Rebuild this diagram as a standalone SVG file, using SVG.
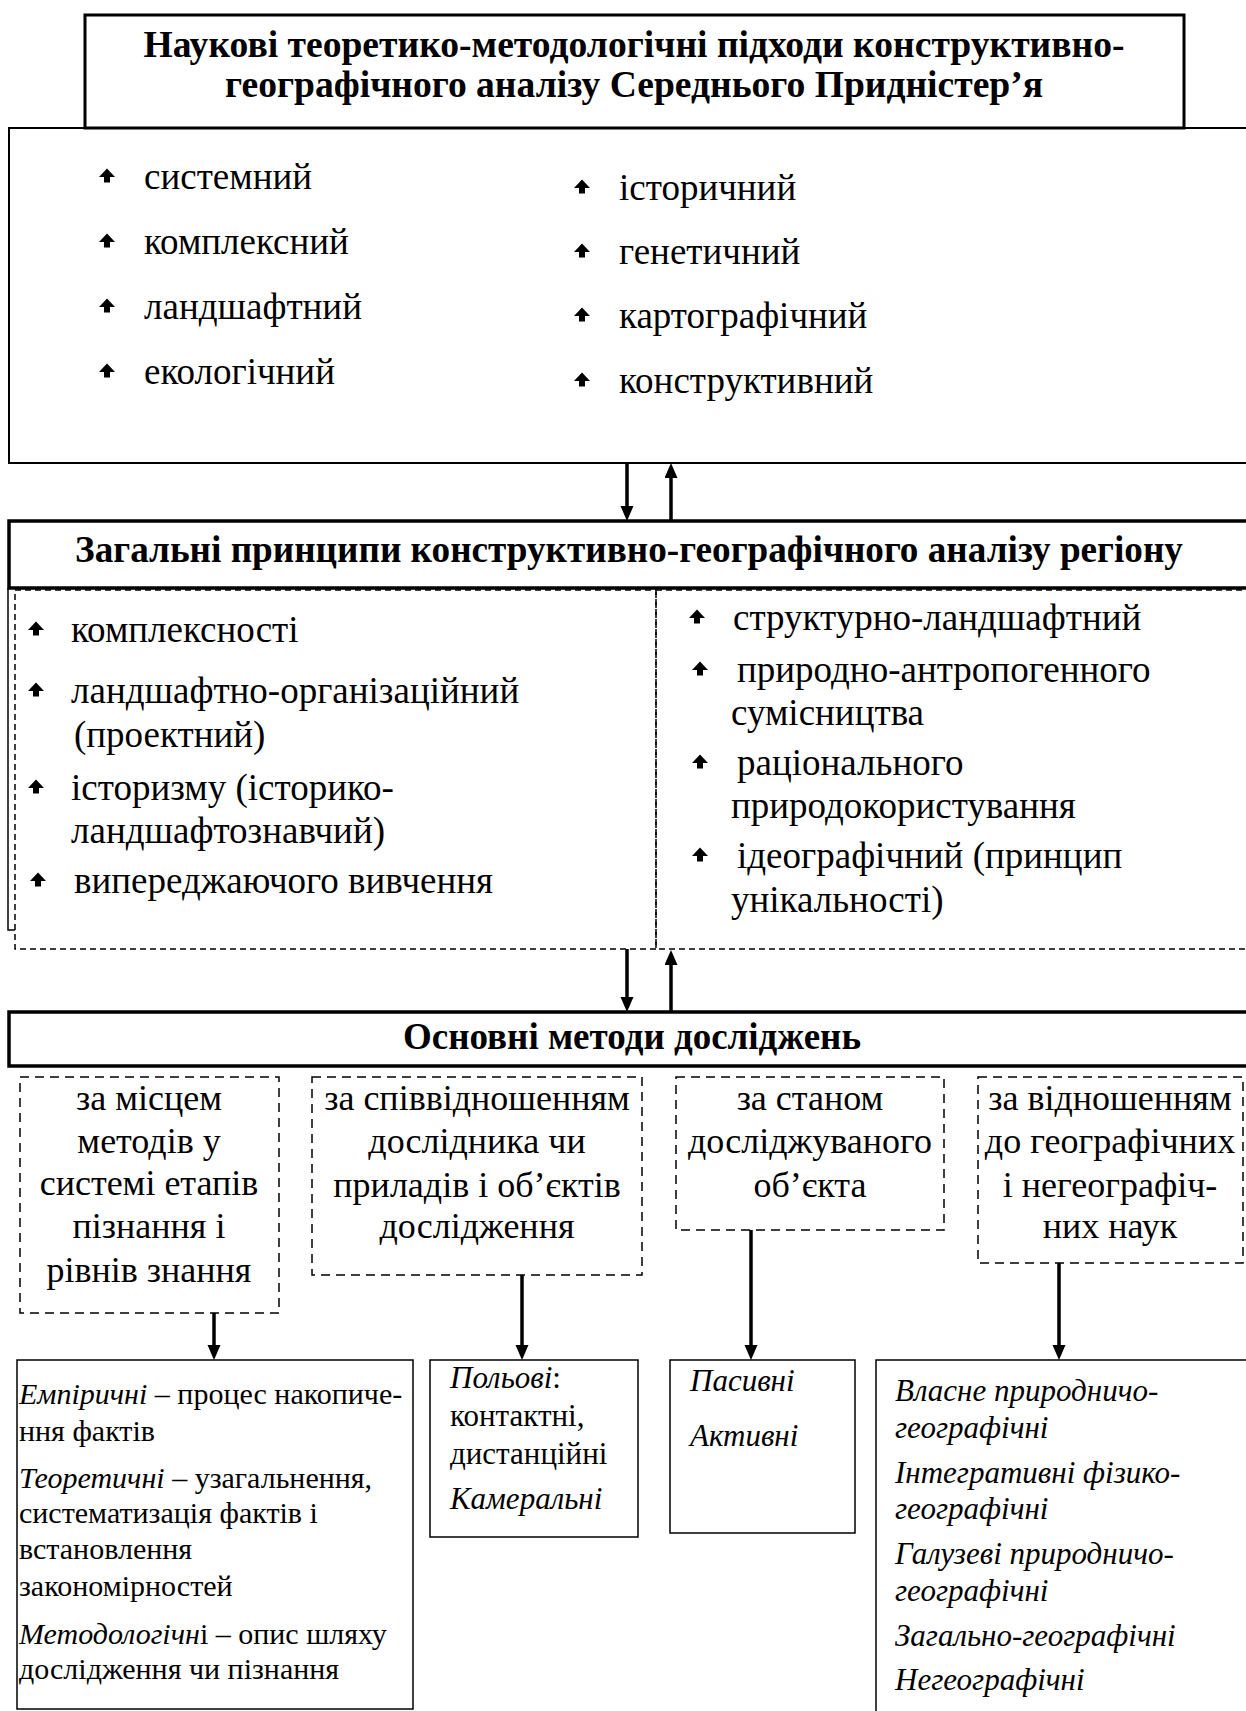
<svg xmlns="http://www.w3.org/2000/svg" width="1246" height="1711" viewBox="0 0 1246 1711">
<style>
text{font-family:"Liberation Serif","Times New Roman",serif;fill:#000}
.hd{font-weight:bold;font-size:37.6px}
.li{font-size:37px}
.pr{font-size:37px}
.me{font-size:36px;text-anchor:middle}
.bt{font-size:30px}
.bt2{font-size:31px}
.i{font-style:italic}
.box{fill:#fff;stroke:#000;stroke-width:2}
.thick{fill:#fff;stroke:#000;stroke-width:3.5}
.dash{fill:none;stroke:#000;stroke-width:1.5;stroke-dasharray:6 4}
.dash2{fill:none;stroke:#000;stroke-width:1.5;stroke-dasharray:9 6}
.con{stroke:#000;stroke-width:3.5;fill:none;marker-end:url(#ah)}
</style>
<defs>
<marker id="ah" markerUnits="userSpaceOnUse" markerWidth="15" markerHeight="14" refX="7" refY="6.5" orient="auto"><path d="M0,0 L15,6.5 L0,13 z" fill="#000"/></marker>
<path id="bul" d="M0,-7.5 L8,1 L3,1 L3,6.5 L-3,6.5 L-3,1 L-8,1 Z" fill="#000"/>
</defs>
<rect width="1246" height="1711" fill="#fff"/>

<g id="approaches">
<rect class="box" x="9" y="128" width="1250" height="335"/>
<use href="#bul" x="107" y="176"/><text class="li" x="144" y="189">системний</text>
<use href="#bul" x="107" y="241"/><text class="li" x="144" y="254">комплексний</text>
<use href="#bul" x="107" y="306"/><text class="li" x="144" y="319">ландшафтний</text>
<use href="#bul" x="107" y="371"/><text class="li" x="144" y="384">екологічний</text>
<use href="#bul" x="582" y="187"/><text class="li" x="619" y="200">історичний</text>
<use href="#bul" x="582" y="251"/><text class="li" x="619" y="264">генетичний</text>
<use href="#bul" x="582" y="315"/><text class="li" x="619" y="328">картографічний</text>
<use href="#bul" x="582" y="380"/><text class="li" x="619" y="393">конструктивний</text>
</g>

<g id="title">
<rect fill="#fff" stroke="#000" stroke-width="3" x="85" y="15" width="1099" height="113"/>
<text class="hd" x="634" y="57" text-anchor="middle">Наукові теоретико-методологічні підходи конструктивно-</text>
<text class="hd" x="634" y="97" text-anchor="middle">географічного аналізу Середнього Придністер’я</text>
</g>

<g id="principles-header">
<rect class="thick" x="9" y="521" width="1250" height="67"/>
<text class="hd" x="629" y="562" text-anchor="middle" style="font-size:37.2px">Загальні принципи конструктивно-географічного аналізу регіону</text>
</g>

<g id="principles-left">
<path d="M8,588 V930 H15" fill="none" stroke="#000" stroke-width="1.5"/>
<rect class="dash" x="15" y="590" width="641" height="359"/>
<use href="#bul" x="36" y="629"/><text class="pr" x="71" y="642">комплексності</text>
<use href="#bul" x="36" y="690"/><text class="pr" x="71" y="703">ландшафтно-організаційний</text>
<text class="pr" x="74" y="747">(проектний)</text>
<use href="#bul" x="36" y="787"/><text class="pr" x="71" y="800">історизму (історико-</text>
<text class="pr" x="71" y="843">ландшафтознавчий)</text>
<use href="#bul" x="38" y="880"/><text class="pr" x="74" y="893">випереджаючого вивчення</text>
</g>

<g id="principles-right">
<rect class="dash" x="656" y="590" width="600" height="359"/>
<use href="#bul" x="697" y="617"/><text class="pr" x="733" y="630">структурно-ландшафтний</text>
<use href="#bul" x="700" y="669"/><text class="pr" x="737" y="682">природно-антропогенного</text>
<text class="pr" x="731" y="725">сумісництва</text>
<use href="#bul" x="700" y="762"/><text class="pr" x="737" y="775">раціонального</text>
<text class="pr" x="731" y="818">природокористування</text>
<use href="#bul" x="700" y="855"/><text class="pr" x="737" y="868">ідеографічний (принцип</text>
<text class="pr" x="731" y="912">унікальності)</text>
</g>

<g id="methods-header">
<rect class="thick" x="9" y="1012" width="1250" height="54"/>
<text class="hd" x="632" y="1049" text-anchor="middle" style="font-size:37px">Основні методи досліджень</text>
</g>

<g id="m-place">
<rect class="dash2" x="20" y="1077" width="259" height="236"/>
<text class="me" x="149" y="1110">за місцем</text>
<text class="me" x="149" y="1153">методів у</text>
<text class="me" x="149" y="1195">системі етапів</text>
<text class="me" x="149" y="1238">пізнання і</text>
<text class="me" x="149" y="1282">рівнів знання</text>
</g>

<g id="m-relation">
<rect class="dash2" x="312" y="1077" width="330" height="198"/>
<text class="me" x="477" y="1110">за співвідношенням</text>
<text class="me" x="477" y="1153">дослідника чи</text>
<text class="me" x="477" y="1197">приладів і об’єктів</text>
<text class="me" x="477" y="1238">дослідження</text>
</g>

<g id="m-state">
<rect class="dash2" x="676" y="1077" width="268" height="153"/>
<text class="me" x="810" y="1110">за станом</text>
<text class="me" x="810" y="1153">досліджуваного</text>
<text class="me" x="810" y="1197">об’єкта</text>
</g>

<g id="m-science">
<rect class="dash2" x="978" y="1077" width="265" height="186"/>
<text class="me" x="1110" y="1110">за відношенням</text>
<text class="me" x="1110" y="1153">до географічних</text>
<text class="me" x="1110" y="1197">і негеографіч-</text>
<text class="me" x="1110" y="1238">них наук</text>
</g>

<g id="r-levels">
<rect fill="#fff" stroke="#000" stroke-width="1.5" x="17" y="1360" width="396" height="349"/>
<text class="bt" x="19" y="1404"><tspan class="i">Емпіричні</tspan> – процес накопиче-</text>
<text class="bt" x="19" y="1441">ння фактів</text>
<text class="bt" x="19" y="1488"><tspan class="i">Теоретичні</tspan> – узагальнення,</text>
<text class="bt" x="19" y="1523">систематизація фактів і</text>
<text class="bt" x="19" y="1559">встановлення</text>
<text class="bt" x="19" y="1596">закономірностей</text>
<text class="bt" x="19" y="1644"><tspan class="i">Методологічн</tspan>і – опис шляху</text>
<text class="bt" x="19" y="1679">дослідження чи пізнання</text>
</g>

<g id="r-field">
<rect fill="#fff" stroke="#000" stroke-width="1.5" x="430" y="1360" width="208" height="177"/>
<text class="bt2" x="450" y="1388"><tspan class="i">Польові</tspan>:</text>
<text class="bt2" x="450" y="1426">контактні,</text>
<text class="bt2" x="450" y="1464">дистанційні</text>
<text class="bt2 i" x="450" y="1509">Камеральні</text>
</g>

<g id="r-state">
<rect fill="#fff" stroke="#000" stroke-width="1.5" x="670" y="1360" width="185" height="173"/>
<text class="bt2 i" x="690" y="1391">Пасивні</text>
<text class="bt2 i" x="690" y="1446">Активні</text>
</g>

<g id="r-science">
<rect fill="#fff" stroke="#000" stroke-width="1.5" x="876" y="1360" width="400" height="400"/>
<text class="bt2 i" x="895" y="1401">Власне природничо-</text>
<text class="bt2 i" x="895" y="1438">географічні</text>
<text class="bt2 i" x="895" y="1483">Інтегративні фізико-</text>
<text class="bt2 i" x="895" y="1519">географічні</text>
<text class="bt2 i" x="895" y="1564">Галузеві природничо-</text>
<text class="bt2 i" x="895" y="1601">географічні</text>
<text class="bt2 i" x="895" y="1646">Загально-географічні</text>
<text class="bt2 i" x="895" y="1690">Негеографічні</text>
</g>

<g id="connectors">
<line class="con" x1="627" y1="463" x2="627" y2="513"/>
<line class="con" x1="671" y1="521" x2="671" y2="471"/>
<line class="con" x1="627" y1="949" x2="627" y2="1004"/>
<line class="con" x1="671" y1="1012" x2="671" y2="958"/>
<line class="con" x1="214" y1="1313" x2="214" y2="1352"/>
<line class="con" x1="522" y1="1275" x2="522" y2="1352"/>
<line class="con" x1="751" y1="1230" x2="751" y2="1352"/>
<line class="con" x1="1059" y1="1263" x2="1059" y2="1352"/>
</g>
</svg>
